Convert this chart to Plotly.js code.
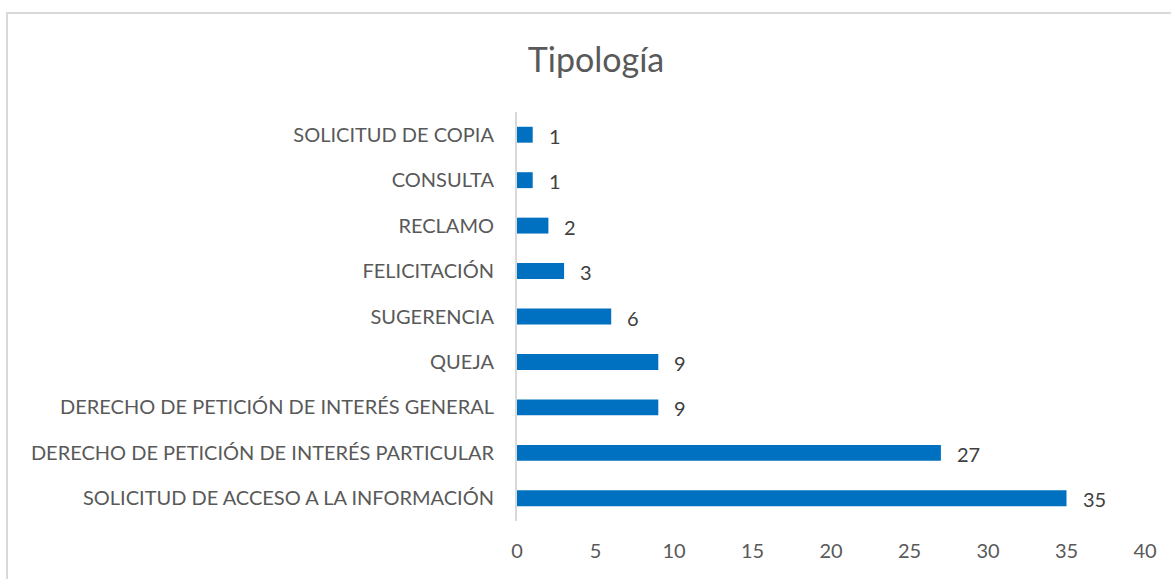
<!DOCTYPE html>
<html><head><meta charset="utf-8">
<script src="https://cdn.plot.ly/plotly-3.0.1.min.js"></script>
<style>
html,body{margin:0;padding:0;background:#fff;overflow:hidden;}
#frame{position:absolute;left:6px;top:12px;width:1200px;height:600px;border:2px solid #d9d9d9;box-sizing:border-box;pointer-events:none;z-index:5;}
#chart{position:absolute;left:0;top:0;width:1171px;height:579px;}
</style>
</head><body>
<div id="chart"></div>
<div id="frame"></div>
<script>
const categories = [
  "SOLICITUD DE ACCESO A LA INFORMACIÓN",
  "DERECHO DE PETICIÓN DE INTERÉS PARTICULAR",
  "DERECHO DE PETICIÓN DE INTERÉS GENERAL",
  "QUEJA",
  "SUGERENCIA",
  "FELICITACIÓN",
  "RECLAMO",
  "CONSULTA",
  "SOLICITUD DE COPIA"
];
const values = [35, 27, 9, 9, 6, 3, 2, 1, 1];
const xTicks = [0, 5, 10, 15, 20, 25, 30, 35, 40];

const font = "Lato, 'Open Sans', sans-serif";
const annotations = categories.map((c, i) => ({
  x: values[i], y: c, xref: 'x', yref: 'y',
  text: String(values[i]), showarrow: false,
  xanchor: 'left', yanchor: 'middle', xshift: 14, yshift: -1,
  font: {family: font, size: 20, color: '#404040'}
}));

Plotly.newPlot('chart', [{
  type: 'bar', orientation: 'h',
  y: categories, x: values,
  width: 0.35,
  marker: {color: '#0070C0'},
  hoverinfo: 'none'
}], {
  width: 1171, height: 579,
  margin: {l: 517, r: 26, t: 111.5, b: 57.5, pad: 0},
  paper_bgcolor: '#fff', plot_bgcolor: '#fff',
  title: {text: 'Tipología', x: 596/1171, xref: 'container', xanchor: 'center',
          y: 1 - 60/579, yref: 'container', yanchor: 'middle',
          font: {family: font, size: 34, color: '#595959'}},
  xaxis: {range: [0, 40], tickvals: xTicks, ticktext: xTicks.map(String),
          showgrid: false, zeroline: false, showline: false, ticks: '',
          tickfont: {family: font, size: 20, color: '#595959'}, ticklabelstandoff: 16, fixedrange: true},
  yaxis: {type: 'category', range: [-0.5, 8.5], showgrid: false, zeroline: false,
          showline: true, linecolor: '#d9d9d9', linewidth: 2, ticks: '',
          ticklabelstandoff: 17,
          tickfont: {family: font, size: 20, color: '#595959'}, fixedrange: true},
  annotations: annotations,
  showlegend: false
}, {displayModeBar: false, staticPlot: true});
</script>
</body></html>
